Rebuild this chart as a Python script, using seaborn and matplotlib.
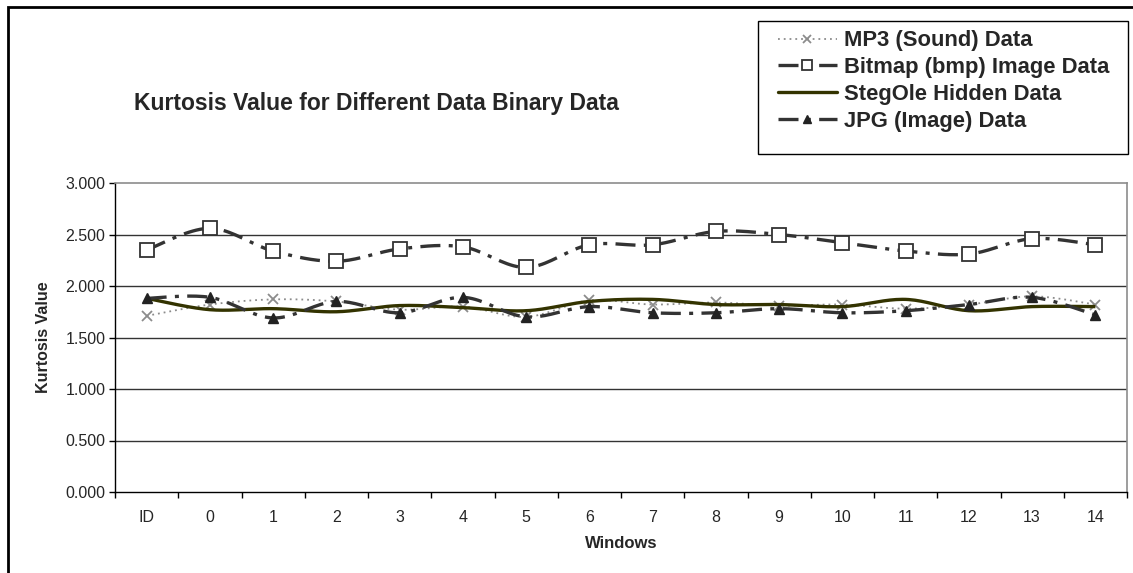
import numpy as np
import pandas as pd
import matplotlib
matplotlib.use("Agg")
import matplotlib.pyplot as plt
from matplotlib.lines import Line2D
from matplotlib.patches import Rectangle
import seaborn as sns

categories = ["ID", "0", "1", "2", "3", "4", "5", "6", "7", "8", "9", "10", "11", "12", "13", "14"]
mp3 = [1.71, 1.82, 1.87, 1.85, 1.77, 1.80, 1.70, 1.86, 1.82, 1.84, 1.81, 1.82, 1.78, 1.82, 1.90, 1.82]
bitmap = [2.35, 2.56, 2.34, 2.24, 2.36, 2.38, 2.18, 2.40, 2.40, 2.53, 2.50, 2.42, 2.34, 2.31, 2.46, 2.40]
stegole = [1.88, 1.77, 1.78, 1.75, 1.81, 1.79, 1.76, 1.85, 1.87, 1.82, 1.82, 1.80, 1.87, 1.76, 1.80, 1.80]
jpg = [1.88, 1.89, 1.69, 1.85, 1.74, 1.89, 1.70, 1.80, 1.74, 1.74, 1.78, 1.74, 1.76, 1.82, 1.89, 1.72]
y_ticks = [0.0, 0.5, 1.0, 1.5, 2.0, 2.5, 3.0]

sns.set_theme(style="white")
plt.rcParams['font.family'] = ['Liberation Sans', 'DejaVu Sans']

W, H = 1133, 573
fig = plt.figure(figsize=(W / 100, H / 100), dpi=100)
ax = fig.add_axes([115 / W, 1 - 492 / H, (1127 - 115) / W, (492 - 183) / H])

xpos = np.arange(len(categories))


def smooth(x, y, n=20):
    # Catmull-Rom rendering of the line between the data points (display only)
    x = np.asarray(x, float); y = np.asarray(y, float)
    px = np.concatenate([[x[0]], x, [x[-1]]])
    py = np.concatenate([[y[0]], y, [y[-1]]])
    xs, ys = [], []
    t = np.linspace(0, 1, n, endpoint=False)
    for i in range(1, len(px) - 2):
        for P, out in ((px, xs), (py, ys)):
            p0, p1, p2, p3 = P[i - 1], P[i], P[i + 1], P[i + 2]
            out.extend(0.5 * ((2 * p1) + (-p0 + p2) * t + (2 * p0 - 5 * p1 + 4 * p2 - p3) * t ** 2
                              + (-p0 + 3 * p1 - 3 * p2 + p3) * t ** 3))
    xs.append(x[-1]); ys.append(y[-1])
    return np.array(xs), np.array(ys)


# gridlines
for v in y_ticks[1:-1]:
    ax.axhline(v, color="#333333", lw=1.0, zorder=1)

dashdot = (6, 2.5, 1.2, 2.5)
series = [
    ("MP3 (Sound) Data", mp3, dict(color="#8c8c8c", lw=1.3, dashes=(1, 2.2)),
     dict(marker="x", ms=7, mec="#8c8c8c", mew=1.3, mfc="none")),
    ("Bitmap (bmp) Image Data", bitmap, dict(color="#333333", lw=2.4, dashes=dashdot),
     dict(marker="s", ms=9.5, mec="#333333", mew=1.3, mfc="white")),
    ("StegOle Hidden Data", stegole, dict(color="#333300", lw=2.4, ls="-"),
     None),
    ("JPG (Image) Data", jpg, dict(color="#333333", lw=2.4, dashes=dashdot),
     dict(marker="^", ms=7.5, mec="#222222", mfc="#222222", mew=1)),
]

handles = []
for z, (name, vals, lkw, mkw) in enumerate(series):
    sx, sy = smooth(xpos, vals)
    ax.plot(sx, sy, zorder=3 + z, solid_capstyle="butt", dash_capstyle="butt", **lkw)
    if mkw is not None:
        df = pd.DataFrame({"x": xpos, "y": vals})
        sns.lineplot(data=df, x="x", y="y", ax=ax, linestyle="none", zorder=4 + z, **mkw)
    hk = dict(lkw)
    if mkw is not None:
        hk.update(mkw)
    handles.append(Line2D([], [], label=name, **hk))

ax.set_xlim(-0.5, len(categories) - 0.5)
ax.set_ylim(0, 3)
ax.set_xticks(xpos)
ax.set_xticklabels(categories, fontsize=11.5)
ax.set_xticks(np.arange(-0.5, len(categories), 1.0), minor=True)
ax.tick_params(axis="x", which="major", length=0, pad=13)
ax.tick_params(axis="x", which="minor", length=4, width=1, color="black", direction="out", bottom=True)
ax.set_yticks(y_ticks)
ax.set_yticklabels([f"{v:.3f}" for v in y_ticks], fontsize=11.5)
ax.tick_params(axis="y", length=4, width=1, color="black", direction="out", left=True, pad=3)

for s in ("left", "bottom"):
    ax.spines[s].set_color("black"); ax.spines[s].set_linewidth(1.0)
for s in ("top", "right"):
    ax.spines[s].set_color("#8c8c8c"); ax.spines[s].set_linewidth(1.2)
for s in ax.spines.values():
    s.set_zorder(10)

ax.set_xlabel("Windows", fontsize=12, fontweight="bold", labelpad=8)
ax.set_ylabel("Kurtosis Value", fontsize=11.5, fontweight="bold", labelpad=10)
ax.grid(False)

fig.text(376 / W, 1 - 103 / H, "Kurtosis Value for Different Data Binary Data",
         ha="center", va="center", fontsize=16.5, fontweight="bold")

# legend box
fig.patches.append(Rectangle((758 / W, 1 - 154 / H), (1128 - 758) / W, (154 - 21) / H,
                             transform=fig.transFigure, facecolor="white",
                             edgecolor="black", lw=1.0, zorder=1))
leg = fig.legend(handles=handles, loc="upper left", bbox_to_anchor=(774 / W, 1 - 26 / H),
                 frameon=False, prop=dict(size=15.8, weight="bold"),
                 handlelength=2.65, handletextpad=0.36, borderpad=0.2, labelspacing=0.26,
                 borderaxespad=0, markerscale=0.8)
leg.set_zorder(5)

fig.patches.append(Rectangle((8 / W, -0.05), 1.2, 1 - 7 / H + 0.05, transform=fig.transFigure,
                             fill=False, edgecolor="black", lw=2, zorder=0))

fig.savefig("out.png", dpi=100)
